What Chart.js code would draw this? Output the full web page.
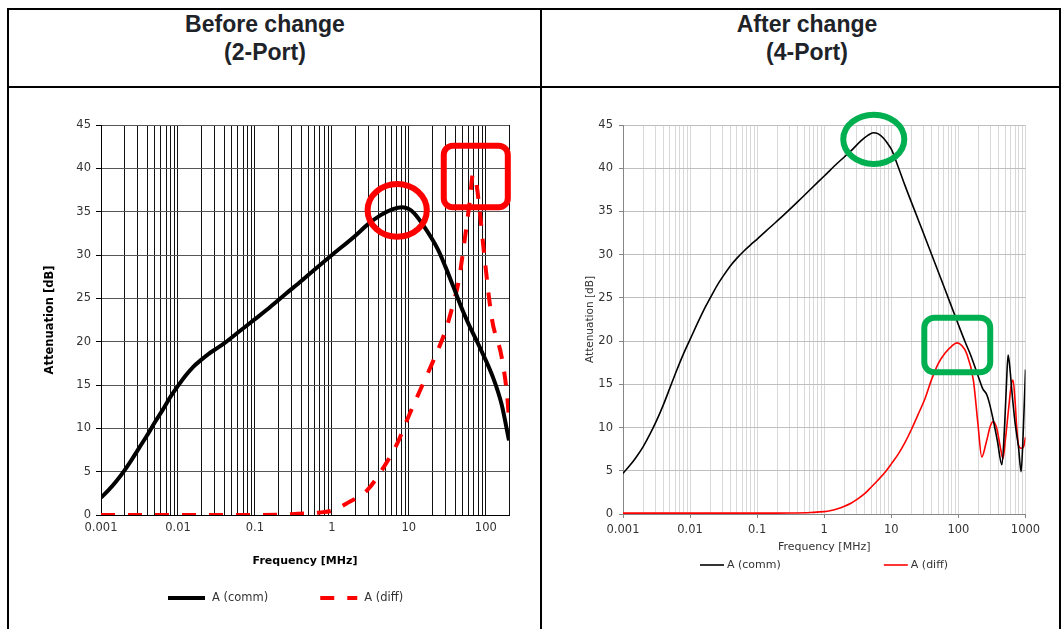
<!DOCTYPE html>
<html>
<head>
<meta charset="utf-8">
<script src="https://cdn.jsdelivr.net/npm/chart.js@4.4.1/dist/chart.umd.min.js"></script>
<style>
  html, body { margin: 0; padding: 0; background: #fff; width: 1062px; height: 629px; overflow: hidden; }
  .rule { position: absolute; background: #000; }
  .head { position: absolute; width: 300px; text-align: center; font-family: "Liberation Sans", Arial, sans-serif;
          font-weight: bold; font-size: 23px; line-height: 28px; color: #1e2329; }
  canvas { position: absolute; }
</style>
</head>
<body>
<!-- table frame -->
<div class="rule" style="left:7px;top:8px;width:1054px;height:2px"></div>
<div class="rule" style="left:7px;top:86px;width:1054px;height:2px"></div>
<div class="rule" style="left:7px;top:8px;width:2px;height:621px"></div>
<div class="rule" style="left:540px;top:8px;width:2px;height:621px"></div>
<div class="rule" style="left:1059px;top:8px;width:2px;height:621px"></div>

<div class="head" style="left:115px;top:10px">Before change<br>(2-Port)</div>
<div class="head" style="left:657px;top:10px">After change<br>(4-Port)</div>

<canvas id="before" width="530" height="541" style="left:10px;top:88px"></canvas>
<canvas id="after" width="516" height="540" style="left:543px;top:89px"></canvas>

<script>
// ---- Before change (2-Port): frequency [MHz] / attenuation [dB]
const freqCommBefore = [0.001, 0.00126, 0.00158, 0.002, 0.00251, 0.00316, 0.00398, 0.00501, 0.0063, 0.00794,
                        0.01, 0.0126, 0.0158, 0.02, 0.0251, 0.0316, 0.0398, 0.063, 0.1, 0.158,
                        0.25, 0.4, 0.63, 1, 2, 2.9, 4.3, 6.2, 8.2, 10,
                        11.5, 15.5, 24, 30, 38, 50, 60, 85, 125, 160, 200];
const commBefore     = [2.0, 2.9, 3.9, 5.1, 6.4, 7.8, 9.2, 10.7, 12.1, 13.6,
                        14.9, 16.1, 17.1, 17.9, 18.6, 19.2, 19.8, 21.2, 22.6, 24.0,
                        25.5, 27.0, 28.5, 30.0, 32.2, 33.5, 34.6, 35.3, 35.5, 35.3,
                        34.9, 33.4, 30.6, 28.6, 26.3, 23.6, 22.0, 19.2, 15.8, 12.8, 8.6];
const freqDiffBefore = [0.001, 0.01, 0.1, 0.3, 0.5, 0.7, 1, 1.6, 2.9, 4.7, 7.1, 9.5, 14, 21, 30.5, 38, 44, 53, 62, 68, 76, 83, 97, 120, 160, 190, 200];
const diffBefore     = [0, 0, 0, 0.1, 0.2, 0.3, 0.5, 1.4, 2.9, 5.5, 8.3, 11.0, 14.4, 17.9, 21.5, 24.5, 26.8, 31.7, 36.3, 39.3, 38.0, 35.2, 29.4, 22.6, 18.3, 13.6, 11.0];

// ---- After change (4-Port)
const freqCommAfter = [0.001, 0.00126, 0.00158, 0.002, 0.00251, 0.00316, 0.00398, 0.00501, 0.0063, 0.00794,
                       0.01, 0.0126, 0.0158, 0.02, 0.0251, 0.0316, 0.0398, 0.05, 0.063, 0.079,
                       0.1, 0.158, 0.25, 0.4, 0.63, 1, 1.58, 2.5, 3.55, 4.47,
                       5.4, 6.3, 7.6, 8.9, 10, 12.6, 15.8, 25, 40, 63,
                       100, 126, 150, 200, 230, 265, 290, 330, 380, 445,
                       490, 520, 550, 580, 630, 700, 785, 860, 920, 1000];
const commAfter     = [4.7, 5.6, 6.6, 7.8, 9.2, 10.8, 12.6, 14.6, 16.6, 18.5,
                       20.2, 21.9, 23.5, 25.0, 26.4, 27.6, 28.7, 29.6, 30.4, 31.1,
                       31.8, 33.2, 34.6, 36.1, 37.6, 39.1, 40.6, 42.0, 43.2, 43.8,
                       44.1, 44.0, 43.5, 42.8, 42.2, 40.2, 38.1, 34.1, 30.0, 26.0,
                       21.9, 19.9, 18.5, 15.8, 14.5, 13.8, 12.8, 10.9, 8.5, 5.7,
                       10.5, 15.0, 18.4, 17.2, 14.0, 10.5, 7.8, 4.9, 9.0, 16.7];
const freqDiffAfter = [0.001, 0.01, 0.1, 0.316, 0.63, 1, 1.26, 1.58, 2, 2.5,
                       3.16, 4, 5, 6.3, 8, 10, 12.6, 15.8, 20, 25,
                       31.6, 40, 50, 63, 79, 95, 112, 132, 167, 195,
                       223, 260, 300, 330, 370, 420, 461, 500, 557, 610,
                       651, 700, 740, 785, 860, 937, 1000];
const diffAfter     = [0.1, 0.1, 0.1, 0.12, 0.18, 0.27, 0.4, 0.6, 0.9, 1.25,
                       1.75, 2.35, 3.1, 3.9, 4.8, 5.8, 6.9, 8.2, 9.8, 11.5,
                       13.3, 15.6, 17.4, 18.6, 19.4, 19.8, 19.5, 18.6, 15.5, 10.5,
                       6.6, 8.3, 10.2, 10.7, 10.0, 7.8, 6.4, 8.5, 12.0, 14.8,
                       15.5, 13.0, 10.0, 8.0, 7.6, 7.8, 8.9];

// ---- axes
const decadesBefore = [0.001, 0.01, 0.1, 1, 10, 100];
const decadeLabelsBefore = ['0.001', '0.01', '0.1', '1', '10', '100'];
const decadesAfter = [0.001, 0.01, 0.1, 1, 10, 100, 1000];
const decadeLabelsAfter = ['0.001', '0.01', '0.1', '1', '10', '100', '1000'];
const minorSteps = [1, 2, 3, 4, 5, 6, 7, 8, 9];
const seriesNames = ['A (comm)', 'A (diff)'];
const yTitle = 'Attenuation [dB]';
const xTitle = 'Frequency [MHz]';

// ---- highlight marks, in data units (MHz / dB)
const marksBefore = [
  { shape: 'ellipse', xMin: 2.91, xMax: 17.1, yMin: 32.1, yMax: 38.2, color: '#ff0000' },
  { shape: 'rect', xMin: 28.4, xMax: 193, yMin: 35.5, yMax: 42.6, color: '#ff0000' }
];
const marksAfter = [
  { shape: 'ellipse', xMin: 1.92, xMax: 15.6, yMin: 40.5, yMax: 46.2, color: '#00b050' },
  { shape: 'rect', xMin: 31, xMax: 298, yMin: 16.4, yMax: 22.7, color: '#00b050' }
];

Chart.defaults.font.family = '"DejaVu Sans", sans-serif';
Chart.defaults.color = '#333';

function points(xs, ys) { return xs.map((f, i) => ({ x: f, y: ys[i] })); }

function logTicks(decades, max) {
  const out = [];
  decades.forEach(d => minorSteps.forEach(m => {
    const v = +(m * d).toPrecision(6);
    if (v <= max + 1e-9) out.push(v);
  }));
  return out;
}

function decadeIndex(decades, v) {
  return decades.findIndex(d => Math.abs(Math.log10(v) - Math.log10(d)) < 1e-6);
}

// outlined ellipses / rounded boxes placed through the chart scales
function highlightPlugin(items, lineWidth, radius) {
  return {
    id: 'highlights',
    afterDatasetsDraw(chart) {
      const { ctx, scales: { x, y } } = chart;
      items.forEach(it => {
        const x0 = x.getPixelForValue(it.xMin), x1 = x.getPixelForValue(it.xMax);
        const y0 = y.getPixelForValue(it.yMax), y1 = y.getPixelForValue(it.yMin);
        ctx.save();
        ctx.strokeStyle = it.color;
        ctx.lineWidth = lineWidth;
        ctx.beginPath();
        if (it.shape === 'ellipse') {
          ctx.ellipse((x0 + x1) / 2, (y0 + y1) / 2, (x1 - x0) / 2, (y1 - y0) / 2, 0, 0, Math.PI * 2);
        } else {
          ctx.roundRect(x0, y0, x1 - x0, y1 - y0, radius);
        }
        ctx.stroke();
        ctx.restore();
      });
    }
  };
}

// legend row: line sample in each dataset's own stroke, then its label
function lineLegendPlugin(o) {
  return {
    id: 'lineLegend',
    afterDraw(chart) {
      const ctx = chart.ctx;
      let x = o.x;
      ctx.save();
      ctx.font = o.font;
      ctx.textBaseline = 'middle';
      ctx.fillStyle = o.color;
      chart.data.datasets.forEach(ds => {
        ctx.strokeStyle = ds.borderColor;
        ctx.lineWidth = ds.borderWidth;
        ctx.setLineDash(ds.borderDash || []);
        ctx.beginPath();
        ctx.moveTo(x, o.y);
        ctx.lineTo(x + o.lineLen, o.y);
        ctx.stroke();
        ctx.setLineDash([]);
        const tx = x + o.lineLen + o.textGap;
        ctx.fillText(ds.label, tx, o.y);
        x = tx + ctx.measureText(ds.label).width + o.itemGap;
      });
      ctx.restore();
    }
  };
}

function buildChart(id, c) {
  const ticksX = logTicks(c.decades, c.xMax);
  return new Chart(document.getElementById(id), {
    type: 'line',
    data: {
      datasets: [
        { label: seriesNames[0], data: points(c.commF, c.comm), borderColor: '#000000',
          borderWidth: c.lineWidth, cubicInterpolationMode: 'monotone', pointRadius: 0 },
        { label: seriesNames[1], data: points(c.diffF, c.diff), borderColor: '#ff0000',
          borderWidth: c.lineWidth, borderDash: c.diffDash, cubicInterpolationMode: 'monotone', pointRadius: 0 }
      ]
    },
    options: {
      responsive: false,
      animation: false,
      events: [],
      layout: { padding: c.padding },
      plugins: { legend: { display: false }, tooltip: { enabled: false } },
      scales: {
        x: {
          type: 'logarithmic',
          min: c.decades[0],
          max: c.xMax,
          afterBuildTicks: s => { s.ticks = ticksX.map(v => ({ value: v })); },
          afterFit: s => { s.height = c.xHeight; },
          ticks: {
            autoSkip: false, maxRotation: 0, minRotation: 0,
            padding: c.xTickPad, color: c.tickColor,
            font: { size: c.tickSize },
            callback: v => { const i = decadeIndex(c.decades, v); return i >= 0 ? c.labels[i] : ''; }
          },
          grid: {
            color: c.vGrid, lineWidth: 1,
            drawTicks: c.xTickLen > 0, tickLength: c.xTickLen,
            tickColor: ctx => (ctx.tick && decadeIndex(c.decades, ctx.tick.value) >= 0) ? c.axisColor : 'rgba(0,0,0,0)'
          },
          border: { display: true, color: c.axisColor, width: 1 },
          title: { display: true, text: xTitle, color: c.titleColor,
                   font: { size: c.xTitleSize, weight: c.titleWeight }, padding: { top: 0, bottom: c.xTitlePad } }
        },
        y: {
          min: 0, max: 45,
          afterFit: s => { s.width = c.yWidth; },
          ticks: { stepSize: 5, padding: c.yTickPad, color: c.tickColor, font: { size: c.tickSize } },
          grid: { color: c.hGrid, lineWidth: 1, drawTicks: true, tickLength: c.yTickLen, tickColor: c.axisColor },
          border: { display: true, color: c.axisColor, width: 1 },
          title: { display: true, text: yTitle, color: c.titleColor,
                   font: { size: c.yTitleSize, weight: c.titleWeight }, padding: { top: c.yTitlePad, bottom: 0 } }
        }
      }
    },
    plugins: [highlightPlugin(c.marks, 6, c.radius), lineLegendPlugin(c.legend)]
  });
}

buildChart('before', {
  commF: freqCommBefore, comm: commBefore, diffF: freqDiffBefore, diff: diffBefore,
  decades: decadesBefore, labels: decadeLabelsBefore, xMax: 200,
  lineWidth: 4, diffDash: [14, 13],
  padding: { left: 0, top: 37, right: 31, bottom: 0 },
  xHeight: 114, yWidth: 91,
  xTickPad: 6, xTickLen: 0, yTickPad: 5, yTickLen: 5,
  tickSize: 11.5, tickColor: '#333',
  vGrid: '#111', hGrid: '#555', axisColor: '#000',
  titleColor: '#000', titleWeight: 'bold', xTitleSize: 11, yTitleSize: 11.5,
  xTitlePad: 61.4, yTitlePad: 33.1,
  marks: marksBefore, radius: 9,
  legend: { x: 158, y: 510, lineLen: 37, textGap: 7, itemGap: 52, font: '11.5px "DejaVu Sans"', color: '#333' }
});

buildChart('after', {
  commF: freqCommAfter, comm: commAfter, diffF: freqDiffAfter, diff: diffAfter,
  decades: decadesAfter, labels: decadeLabelsAfter, xMax: 1000,
  lineWidth: 1.6, diffDash: [],
  padding: { left: 0, top: 36, right: 33.5, bottom: 0 },
  xHeight: 115, yWidth: 80,
  xTickPad: 5, xTickLen: 4, yTickPad: 6, yTickLen: 4,
  tickSize: 11.5, tickColor: '#333',
  vGrid: '#d9d9d9', hGrid: '#bfbfbf', axisColor: '#868686',
  titleColor: '#333', titleWeight: 'normal', xTitleSize: 11, yTitleSize: 10.5,
  xTitlePad: 75.4, yTitlePad: 40.7,
  marks: marksAfter, radius: 10,
  legend: { x: 157, y: 476, lineLen: 24, textGap: 3, itemGap: 103, font: '11px "DejaVu Sans"', color: '#333' }
});
</script>
</body>
</html>
